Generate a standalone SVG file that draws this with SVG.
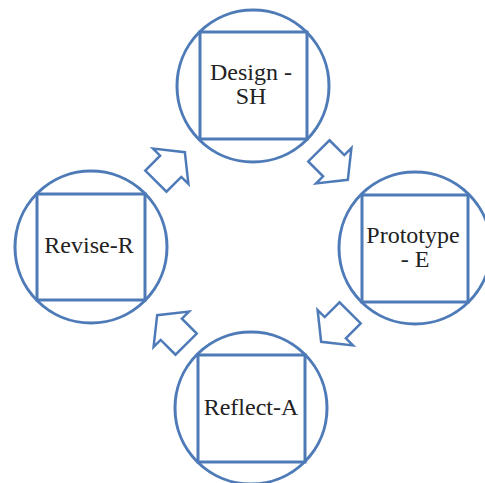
<svg xmlns="http://www.w3.org/2000/svg" width="485" height="483" viewBox="0 0 485 483">
<style>
.c{fill:#fff;stroke:#4e7bb8;stroke-width:3}
.s{fill:none;stroke:#4e7bb8;stroke-width:3}
.a{fill:#fff;stroke:#4e7bb8;stroke-width:2.5;stroke-linejoin:miter}
.t{font-family:'Liberation Serif', 'DejaVu Serif', serif;font-size:24px;fill:#222;text-anchor:middle}
</style>
<defs>
<path id="arr" d="M -20,-15 L 1,-15 L 1,-25 L 21,0 L 1,25 L 1,15 L -20,15 Z"/>
</defs>
<rect width="485" height="483" fill="#fff"/>
<g id="connectors">
<use href="#arr" class="a" transform="translate(170,167) rotate(-45)"/>
<use href="#arr" class="a" transform="translate(333,165) rotate(45)"/>
<use href="#arr" class="a" transform="translate(336,327) rotate(135)"/>
<use href="#arr" class="a" transform="translate(172,330) rotate(-135)"/>
</g>
<g id="design">
<circle class="c" cx="253" cy="86" r="76"/>
<rect class="s" x="200" y="32" width="107" height="107"/>
<text class="t" x="251" y="80">Design -</text>
<text class="t" x="251" y="104">SH</text>
</g>
<g id="revise">
<circle class="c" cx="91" cy="247" r="76"/>
<rect class="s" x="37" y="194" width="108" height="106"/>
<text class="t" x="89" y="253">Revise-R</text>
</g>
<g id="prototype">
<circle class="c" cx="415" cy="248" r="76"/>
<rect class="s" x="362" y="195" width="106" height="107"/>
<text class="t" x="413" y="243">Prototype</text>
<text class="t" x="415" y="267">- E</text>
</g>
<g id="reflect">
<circle class="c" cx="251" cy="408" r="76"/>
<rect class="s" x="198" y="355" width="107" height="107"/>
<text class="t" x="251" y="415">Reflect-A</text>
</g>
</svg>
